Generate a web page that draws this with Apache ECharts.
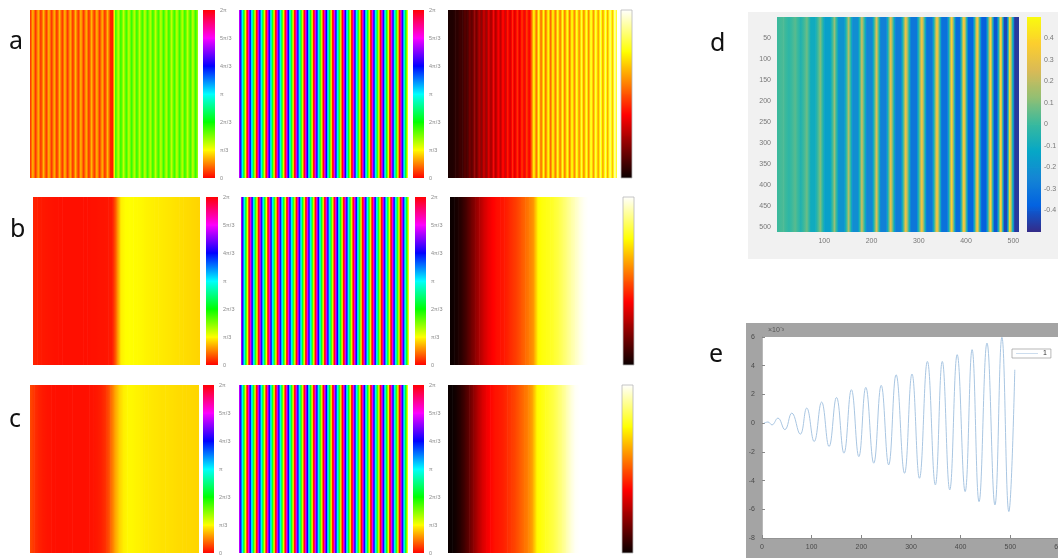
<!DOCTYPE html>
<html>
<head>
<meta charset="utf-8">
<script src="https://cdn.jsdelivr.net/npm/echarts@6/dist/echarts.min.js"></script>
<style>
html, body { margin: 0; padding: 0; background: #fff; }
#main { width: 1058px; height: 558px; }
</style>
</head>
<body>
<div id="main"></div>
<script>
// ---- data ----
// colorbar ticks (units of pi/3) and labels
var piLevels = [0, 1, 2, 3, 4, 5, 6];
var piTicks = ['0', 'π/3', '2π/3', 'π', '4π/3', '5π/3', '2π'];
var hotLevels = [0, 0.25, 0.5, 0.75, 1];

// column a: phase (rad), one value per column
var a1Phase = [
    0.15, 0.8, 0.15, 0.8, 0.15, 0.8, 0.15, 0.8, 0.15, 0.8, 0.15, 0.8, 0.15, 0.8, 0.15, 0.8,
    0.15, 0.8, 0.15, 0.8, 0.15, 0.8, 0.15, 0.8, 0.15, 0.8, 0.15, 0.8, 0.15, 0.8, 0.15, 0.1,
    1.95, 1.25, 1.95, 1.25, 1.95, 1.25, 1.95, 1.25, 1.95, 1.25, 1.95, 1.25, 1.95, 1.25, 1.95, 1.25,
    1.95, 1.25, 1.95, 1.25, 1.95, 1.25, 1.95, 1.25, 1.95, 1.25, 1.95, 1.25, 1.95, 1.25, 1.95, 1.25
];
var b1Phase = [
    0.14, 0.12, 0.1, 0.09, 0.08, 0.07, 0.07, 0.06, 0.06, 0.06, 0.06, 0.06, 0.06, 0.06, 0.07, 0.07,
    0.08, 0.08, 0.09, 0.1, 0.5, 0.98, 1.04, 1.05, 1.04, 1.03, 1.02, 1.0, 0.99, 0.98, 0.97, 0.96,
    0.95, 0.94, 0.93, 0.92, 0.91, 0.9, 0.89, 0.88, 0.87
];
var c1Phase = [
    0.3, 0.2, 0.14, 0.1, 0.08, 0.07, 0.06, 0.06, 0.06, 0.06, 0.06, 0.06, 0.06, 0.06, 0.07, 0.08,
    0.1, 0.14, 0.22, 0.4, 0.65, 0.85, 0.97, 1.02, 1.02, 1.0, 0.99, 0.97, 0.96, 0.95, 0.94, 0.93,
    0.93, 0.92, 0.91, 0.9, 0.9, 0.89, 0.89, 0.88, 0.88
];
// middle column: wrapped phase stripes
var stripePhase = [
    5.2, 3.6, 2.1, 0.5, 5.2, 3.6, 2.1, 0.5, 5.2, 3.6, 2.1, 0.5, 5.2, 3.6, 2.1, 0.5,
    5.2, 3.6, 2.1, 0.5, 5.2, 3.6, 2.1, 0.5, 5.2, 3.6, 2.1, 0.5, 5.2, 3.6, 2.1, 0.5,
    5.2, 3.6, 2.1, 0.5, 5.2, 3.6, 2.1, 0.5, 5.2, 3.6, 2.1, 0.5, 5.2, 3.6, 2.1, 0.5,
    5.2, 3.6, 2.1, 0.5, 5.2, 3.6, 2.1, 0.5, 5.2, 3.6, 2.1, 0.5, 5.2, 3.6, 2.1, 0.5,
    5.2, 3.6, 2.1, 0.5, 5.2, 3.6, 2.1, 0.5
];
// right column: intensity 0..1
var a3Level = [
    0.02, 0.03, 0.03, 0.05, 0.05, 0.08, 0.07, 0.12, 0.09, 0.17, 0.12, 0.22, 0.15, 0.27, 0.18, 0.31,
    0.2, 0.34, 0.22, 0.37, 0.24, 0.39, 0.26, 0.41, 0.28, 0.43, 0.29, 0.44, 0.31, 0.46, 0.32, 0.47,
    0.33, 0.48, 0.35, 0.5,
    0.78, 0.5, 0.8, 0.5, 0.78, 0.52, 0.8, 0.5, 0.78, 0.52, 0.8, 0.52, 0.8, 0.53, 0.82, 0.53,
    0.8, 0.54, 0.82, 0.55, 0.82, 0.55, 0.84, 0.56, 0.84, 0.56, 0.85, 0.57, 0.86, 0.58, 0.88, 0.6,
    0.9, 0.62, 0.95, 0.7
];
var b3Level = [
    0.0, 0.01, 0.03, 0.06, 0.1, 0.15, 0.2, 0.25, 0.3, 0.34, 0.37, 0.39, 0.4, 0.41, 0.43, 0.45,
    0.47, 0.5, 0.53, 0.56, 0.6, 0.74, 0.76, 0.77, 0.78, 0.8, 0.82, 0.85, 0.88, 0.91, 0.94, 0.97,
    0.99, 1, 1, 1, 1, 1, 1, 1, 1
];
var c3Level = [
    0.0, 0.0, 0.02, 0.05, 0.09, 0.14, 0.2, 0.26, 0.31, 0.35, 0.38, 0.4, 0.41, 0.42, 0.44, 0.46,
    0.48, 0.51, 0.54, 0.57, 0.62, 0.74, 0.76, 0.78, 0.8, 0.82, 0.85, 0.88, 0.92, 0.96, 0.99, 1,
    1, 1, 1, 1, 1, 1, 1, 1, 1
];

// d: fringe image profile (pixel x, value): narrow bright fringes, broad dark troughs
var dX = [0, 13, 25, 38, 50, 63,
    71, 81, 91, 100, 112, 121, 130, 142, 151, 159, 171, 179, 189, 201, 210,
    219, 231, 240, 250, 262, 272, 283, 295, 306, 316, 328, 338, 348, 360, 369,
    378, 386, 395, 404, 414, 423, 432, 442, 451, 459, 465, 473, 480, 486, 492, 502, 512];
var dV = [0, 0.03, -0.03, 0.05, -0.06, 0.08,
    -0.1, -0.1, 0.12, -0.15, -0.15, 0.15, -0.2, -0.2, 0.2, -0.22, -0.22, 0.25, -0.25, -0.25, 0.3,
    -0.27, -0.27, 0.33, -0.28, -0.28, 0.36, -0.3, -0.3, 0.38, -0.31, -0.31, 0.4, -0.32, -0.32, 0.42,
    -0.34, -0.34, 0.43, -0.36, -0.36, 0.44, -0.38, -0.38, 0.45, -0.4, -0.4, 0.46, -0.43, -0.43, 0.47, -0.47, -0.47];
var dBarLevels = [-0.5, -0.4, -0.3, -0.2, -0.1, 0, 0.1, 0.2, 0.3, 0.4, 0.5];

// e: line profile (x, y in 1e-3)
var eX = [4, 12, 20, 32, 46, 60, 77, 90, 105, 120, 135, 150, 165, 180, 195, 209, 225, 240, 255,
    270, 287, 302, 317, 333, 349, 363, 378, 393, 409, 423, 437, 453, 469, 483, 497, 509];
var eY = [0, 0.08, -0.12, 0.35, -0.45, 0.7, -0.77, 1.05, -1.28, 1.47, -1.63, 1.79, -2.09, 2.33,
    -2.33, 2.49, -2.79, 2.63, -2.91, 3.37, -3.49, 3.42, -3.84, 4.3, -4.3, 4.3, -4.65, 4.77,
    -4.77, 5.12, -5.47, 5.58, -5.7, 5.98, -6.16, 3.72];

// ---- colormaps ----
var hsvStops = [[0, '#ff0000'], [1 / 6, '#ffff00'], [2 / 6, '#00ff00'], [3 / 6, '#00ffff'],
    [4 / 6, '#0000ff'], [5 / 6, '#ff00ff'], [1, '#ff0000']];
var hotStops = [[0, '#0a0000'], [0.375, '#ff0000'], [0.75, '#ffff00'], [1, '#ffffff']];
var parulaStops = [[0, '#352a87'], [0.125, '#0363e1'], [0.25, '#1485d4'], [0.375, '#06a7c6'],
    [0.5, '#38b99e'], [0.625, '#92bf73'], [0.75, '#d9ba56'], [0.875, '#fcce2e'], [1, '#f9fb0e']];

var hsvCm = {stops: hsvStops, min: 0, max: 2 * Math.PI, cyclic: true};
var hsvBarCm = {stops: hsvStops, min: 0, max: 6};
var hotCm = {stops: hotStops, min: 0, max: 1};
var parulaCm = {stops: parulaStops, min: -0.5, max: 0.5};

function hex(c) {
    return [parseInt(c.substr(1, 2), 16), parseInt(c.substr(3, 2), 16), parseInt(c.substr(5, 2), 16)];
}
function mapColor(stops, t) {
    t = Math.max(0, Math.min(1, t));
    for (var i = 1; i < stops.length; i++) {
        if (t <= stops[i][0]) {
            var a = stops[i - 1], b = stops[i];
            var f = (t - a[0]) / (b[0] - a[0]);
            var ca = hex(a[1]), cb = hex(b[1]);
            return 'rgb(' + Math.round(ca[0] + (cb[0] - ca[0]) * f) + ',' +
                Math.round(ca[1] + (cb[1] - ca[1]) * f) + ',' +
                Math.round(ca[2] + (cb[2] - ca[2]) * f) + ')';
        }
    }
    return stops[stops.length - 1][1];
}
function colorOf(cm, v) {
    var t = (v - cm.min) / (cm.max - cm.min);
    if (cm.cyclic) t = t - Math.floor(t);
    return mapColor(cm.stops, t);
}
function gradStops(cm, v0, v1) {
    if (cm.cyclic) {
        var P = cm.max - cm.min;
        while (v1 - v0 > P / 2) v1 -= P;
        while (v0 - v1 > P / 2) v1 += P;
    }
    var out = [], n = 8;
    for (var k = 0; k <= n; k++) {
        out.push({offset: k / n, color: colorOf(cm, v0 + (v1 - v0) * k / n)});
    }
    return out;
}
function toSegments(vals, xs) {
    var out = [];
    for (var i = 0; i < vals.length - 1; i++) {
        out.push([xs ? xs[i] : i, xs ? xs[i + 1] : i + 1, vals[i], vals[i + 1]]);
    }
    return out;
}

// ---- layout builders ----
var grids = [], xAxes = [], yAxes = [], series = [], graphics = [];
var labelFont = 'Liberation Sans';

function hiddenAxis(min, max) {
    return {type: 'value', min: min, max: max, show: false};
}
function addGrid(rect, xa, ya) {
    var i = grids.length;
    rect.containLabel = false;
    rect.outerBoundsMode = 'none';
    grids.push(rect);
    xa.gridIndex = i;
    ya.gridIndex = i;
    xAxes.push(xa);
    yAxes.push(ya);
    return i;
}

// horizontal stripe image
function addStripes(rect, vals, cm, xs, yMax) {
    var g = addGrid(rect, hiddenAxis(xs ? xs[0] : 0, xs ? xs[xs.length - 1] : vals.length - 1),
        hiddenAxis(0, yMax || 1));
    series.push({
        type: 'custom', xAxisIndex: g, yAxisIndex: g, clip: true, silent: true,
        data: toSegments(vals, xs),
        renderItem: function (params, api) {
            var p0 = api.coord([api.value(0), yMax || 1]);
            var p1 = api.coord([api.value(1), 0]);
            var y0 = Math.min(p0[1], p1[1]), h = Math.abs(p1[1] - p0[1]);
            return {
                type: 'rect',
                shape: {x: p0[0], y: y0, width: p1[0] - p0[0] + 0.6, height: h},
                style: {fill: new echarts.graphic.LinearGradient(0, 0, 1, 0, gradStops(cm, api.value(2), api.value(3)))}
            };
        }
    });
    return g;
}

// vertical colorbar
function addBar(rect, levels, cm, yAxisOpt, border) {
    var ya = Object.assign({
        type: 'value', min: levels[0], max: levels[levels.length - 1],
        interval: levels[1] - levels[0], position: 'right',
        axisLine: {show: false}, axisTick: {show: false}, splitLine: {show: false}
    }, yAxisOpt);
    var g = addGrid(rect, hiddenAxis(0, 1), ya);
    var segs = [];
    for (var i = 0; i < levels.length - 1; i++) segs.push([levels[i], levels[i + 1]]);
    series.push({
        type: 'custom', xAxisIndex: g, yAxisIndex: g, clip: true, silent: true,
        data: segs,
        renderItem: function (params, api) {
            var v0 = api.value(0), v1 = api.value(1);
            var top = api.coord([0, v1]), bot = api.coord([1, v0]);
            return {
                type: 'rect',
                shape: {x: top[0], y: top[1] - 0.4, width: bot[0] - top[0], height: bot[1] - top[1] + 0.8},
                style: {fill: new echarts.graphic.LinearGradient(0, 0, 0, 1, gradStops(cm, v1, v0))}
            };
        }
    });
    if (border) {
        graphics.push({type: 'rect', z: 100, shape: {x: rect.left, y: rect.top, width: rect.width, height: rect.height},
            style: {fill: 'none', stroke: '#b8b8b8', lineWidth: 0.8}});
    }
}

var piAxis = {
    axisLabel: {show: true, fontSize: 5.5, color: '#8a8a8a', margin: 5, fontFamily: labelFont,
        formatter: function (v) { return piTicks[Math.round(v)]; }}
};
var noLabel = {axisLabel: {show: false}};

// rows a, b, c
var rows = [
    {top: 10, p: [[30, 168], [239, 169], [448, 169]], cb: [[203, 12], [413, 11], [621, 11]], v: [a1Phase, stripePhase, a3Level]},
    {top: 197, p: [[33, 167], [241, 168], [450, 167]], cb: [[206, 12], [415, 11], [623, 11]], v: [b1Phase, stripePhase, b3Level]},
    {top: 385, p: [[30, 169], [239, 169], [448, 169]], cb: [[203, 11], [413, 11], [622, 11]], v: [c1Phase, stripePhase, c3Level]}
];
rows.forEach(function (r) {
    for (var k = 0; k < 3; k++) {
        addStripes({left: r.p[k][0], top: r.top, width: r.p[k][1], height: 168}, r.v[k], k < 2 ? hsvCm : hotCm);
        if (k < 2) {
            addBar({left: r.cb[k][0], top: r.top, width: r.cb[k][1], height: 168}, piLevels, hsvBarCm, piAxis, false);
        } else {
            addBar({left: r.cb[k][0], top: r.top, width: r.cb[k][1], height: 168}, hotLevels, hotCm, noLabel, true);
        }
    }
});

// panel d background, image, axes and colorbar
graphics.push({type: 'rect', z: -10, shape: {x: 748, y: 12, width: 310, height: 247}, style: {fill: '#f1f1f1'}});
var dg = addStripes({left: 777, top: 17, width: 242, height: 215}, dV, parulaCm, dX, 512);
xAxes[dg] = {
    gridIndex: dg, type: 'value', min: 0, max: 512, interval: 100, position: 'bottom',
    axisLine: {show: false, onZero: false}, splitLine: {show: false}, axisTick: {show: false},
    axisLabel: {fontSize: 7, color: '#777', margin: 6, fontFamily: labelFont,
        formatter: function (v) { return (v > 0 && v < 512) ? String(v) : ''; }}
};
yAxes[dg] = {
    gridIndex: dg, type: 'value', min: 0, max: 512, interval: 50, inverse: true, position: 'left',
    axisLine: {show: false, onZero: false}, splitLine: {show: false}, axisTick: {show: false},
    axisLabel: {fontSize: 7, color: '#777', margin: 6, fontFamily: labelFont,
        formatter: function (v) { return (v > 0 && v < 512) ? String(v) : ''; }}
};
addBar({left: 1027, top: 17, width: 14, height: 215}, dBarLevels, parulaCm, {
    axisLabel: {show: true, fontSize: 7, color: '#777', margin: 3, fontFamily: labelFont,
        formatter: function (v) {
            if (Math.abs(v) > 0.45) return '';
            return Math.abs(v) < 1e-9 ? '0' : v.toFixed(1);
        }}
}, false);

// panel e: gray figure frame, line plot
graphics.push({type: 'rect', z: -10, shape: {x: 746, y: 323, width: 312, height: 235}, style: {fill: '#a4a4a4'}});
graphics.push({type: 'text', z: 100, style: {x: 768, y: 330, text: '×10⁻³', fontSize: 7, fill: '#555',
    fontFamily: labelFont, verticalAlign: 'middle'}});
var eg = addGrid({left: 762, top: 337, width: 298, height: 201, show: true, backgroundColor: '#fff', borderWidth: 0},
    {
        type: 'value', min: 0, max: 600, interval: 100,
        axisLine: {show: true, onZero: false, lineStyle: {color: '#888', width: 0.6}}, splitLine: {show: false},
        axisTick: {show: true, inside: true, length: 3, lineStyle: {color: '#888'}},
        axisLabel: {fontSize: 7, color: '#4a4a4a', margin: 6, fontFamily: labelFont}
    },
    {
        type: 'value', min: -8, max: 6, interval: 2,
        axisLine: {show: true, onZero: false, lineStyle: {color: '#888', width: 0.6}}, splitLine: {show: false},
        axisTick: {show: true, inside: true, length: 3, lineStyle: {color: '#888'}},
        axisLabel: {fontSize: 7, color: '#4a4a4a', margin: 7, fontFamily: labelFont}
    });
var eData = eX.map(function (x, i) { return [x, eY[i]]; });
series.push({
    name: '1', type: 'line', xAxisIndex: eg, yAxisIndex: eg, data: eData,
    smooth: 0.45, showSymbol: false, symbol: 'none',
    lineStyle: {color: '#a9c6e2', width: 1}, itemStyle: {color: '#a9c6e2'}
});

// panel letters
[['a', 9, 42], ['b', 10, 230], ['c', 9, 420], ['d', 710, 44], ['e', 709, 355]].forEach(function (t) {
    graphics.push({type: 'text', z: 100, style: {x: t[1], y: t[2], text: t[0], fontSize: 25,
        fontFamily: 'Noto Sans', fill: '#111', verticalAlign: 'middle'}});
});

var myChart = echarts.init(document.getElementById('main'), null, {renderer: 'canvas'});
myChart.setOption({
    animation: false,
    backgroundColor: '#fff',
    grid: grids,
    xAxis: xAxes,
    yAxis: yAxes,
    legend: {
        data: ['1'], left: 1012, top: 349, orient: 'horizontal',
        backgroundColor: '#fff', borderColor: '#999', borderWidth: 0.7, padding: [1, 4, 1, 4],
        itemWidth: 22, itemHeight: 6, icon: 'path://M0,3 L22,3 L22,3.6 L0,3.6 Z',
        textStyle: {fontSize: 7, color: '#333', fontFamily: labelFont}
    },
    graphic: {elements: graphics},
    series: series
});
</script>
</body>
</html>
